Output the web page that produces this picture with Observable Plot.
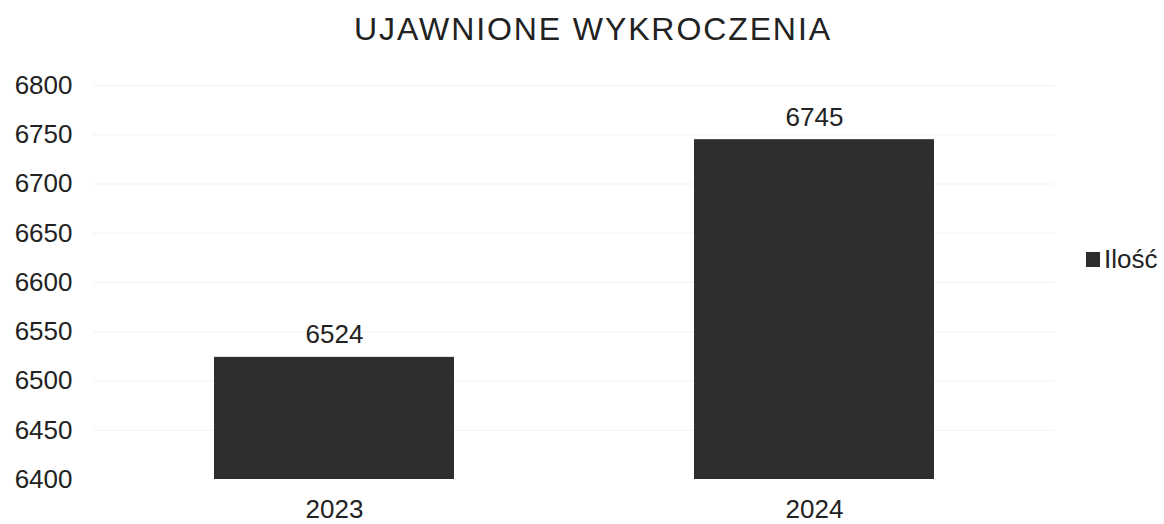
<!DOCTYPE html>
<html><head><meta charset="utf-8">
<script src="https://cdn.jsdelivr.net/npm/d3@7"></script>
<script src="https://cdn.jsdelivr.net/npm/@observablehq/plot@0.6"></script>
<style>
body{margin:0;background:#fff;font-family:"Liberation Sans",Arial,sans-serif;}
#wrap{position:relative;width:1164px;height:524px;overflow:hidden;}
#title{position:absolute;left:0;top:9px;width:1164px;text-align:center;font-size:32px;line-height:40px;color:#222;letter-spacing:1.9px;padding-left:22px;box-sizing:border-box;}
#chart{position:absolute;left:0;top:60px;}
#legend{position:absolute;left:1086px;top:244px;font-size:26px;color:#222;display:flex;align-items:center;}
#legend span.sw{display:inline-block;width:14px;height:15px;background:#302e2c;margin-right:4px;}
</style></head>
<body><div id="wrap"><div id="title">UJAWNIONE WYKROCZENIA</div><div id="chart"></div>
<div id="legend"><span class="sw"></span><span>Ilość</span></div></div>
<script>
const years = ["2023", "2024"];
const values = [6524, 6745];
const yTicks = [6400, 6450, 6500, 6550, 6600, 6650, 6700, 6750, 6800];
const seriesName = "Ilość";

const data = years.map((y, i) => ({year: y, value: values[i]}));

const chart = Plot.plot({
  width: 1164,
  height: 464,
  marginLeft: 93,
  marginRight: 110,
  marginTop: 25,
  marginBottom: 45,
  style: {fontFamily: "'Liberation Sans', Arial, sans-serif", fontSize: "26px", color: "#222", background: "#fff"},
  x: {domain: years, paddingInner: 0.5, paddingOuter: 0.25, label: null},
  y: {domain: [6400, 6800], label: null},
  marks: [
    Plot.ruleY(yTicks.filter(t => t > 6400), {stroke: "#f2f2f2", strokeWidth: 1}),
    Plot.barY(data, {x: "year", y1: 6400, y2: "value", fill: "#302e2c"}),
    Plot.text(data, {x: "year", y: "value", text: d => String(d.value), lineAnchor: "bottom", dy: -14, fontSize: 26, fill: "#222"}),
    Plot.axisY({ticks: yTicks, tickSize: 0, tickPadding: 21, tickFormat: d => String(d), fontSize: 26}),
    Plot.axisX({tickSize: 0, tickPadding: 20, fontSize: 26})
  ]
});
document.getElementById("chart").appendChild(chart);
</script></body></html>
